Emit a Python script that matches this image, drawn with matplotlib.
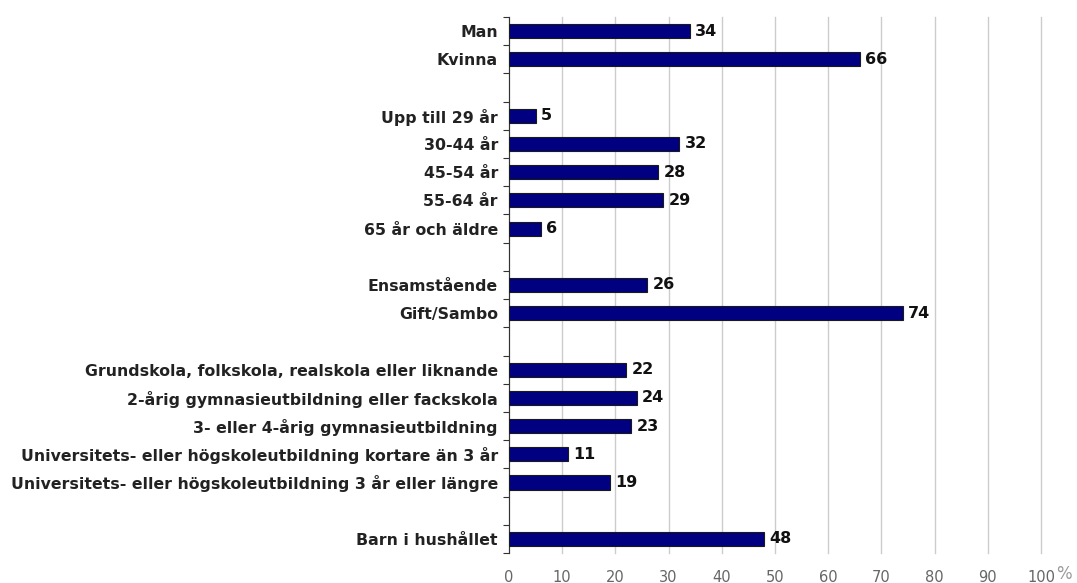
import matplotlib
matplotlib.use("Agg")
import matplotlib.pyplot as plt
import numpy as np

# categories top to bottom, None marks an empty row between groups
labels = ["Man", "Kvinna", None,
          "Upp till 29 år", "30-44 år", "45-54 år", "55-64 år", "65 år och äldre", None,
          "Ensamstående", "Gift/Sambo", None,
          "Grundskola, folkskola, realskola eller liknande",
          "2-årig gymnasieutbildning eller fackskola",
          "3- eller 4-årig gymnasieutbildning",
          "Universitets- eller högskoleutbildning kortare än 3 år",
          "Universitets- eller högskoleutbildning 3 år eller längre", None,
          "Barn i hushållet"]
values = [34, 66, None,
          5, 32, 28, 29, 6, None,
          26, 74, None,
          22, 24, 23, 11, 19, None,
          48]
xticks = [0, 10, 20, 30, 40, 50, 60, 70, 80, 90, 100]

fig = plt.figure(figsize=(10.77, 5.83), dpi=100)
ax = fig.add_axes([0.4726, 0.0515, 0.4940, 0.9193])

n = len(labels)
ypos = np.arange(n)
for y, lab, v in zip(ypos, labels, values):
    if v is None:
        continue
    ax.barh(y, v, height=0.5, color="#000080", edgecolor="#1a1a1a", linewidth=0.8, zorder=3)
    ax.text(v + 1, y, str(v), va="center", ha="left", fontsize=11.5, fontweight="bold", color="#111111")

ax.set_ylim(n - 0.5, -0.5)
ax.set_xlim(0, 100)
ax.set_yticks(ypos)
ax.set_yticklabels([l if l else "" for l in labels], fontsize=11.3, fontweight="bold", color="#222222")
ax.tick_params(axis="y", length=0, pad=8)
# small ticks on the left spine at row boundaries
ax.set_yticks(np.arange(n + 1) - 0.5, minor=True)
ax.tick_params(axis="y", which="minor", length=4, width=0.8, color="#333333", direction="out")

ax.set_xticks(xticks)
ax.set_xticklabels([str(t) for t in xticks], fontsize=10.5, color="#666666")
ax.tick_params(axis="x", length=0, pad=12)
ax.grid(axis="x", color="#cccccc", linewidth=1.0, zorder=0)
for gl in ax.get_xgridlines():
    gl.set_clip_on(False)
for s in ["top", "right", "bottom"]:
    ax.spines[s].set_visible(False)
ax.spines["left"].set_color("#333333")
ax.spines["left"].set_linewidth(0.8)

ax.text(1.028, -0.022, "%", transform=ax.transAxes, fontsize=12, color="#999999", ha="left", va="top")

fig.savefig("out.png", dpi=100)
